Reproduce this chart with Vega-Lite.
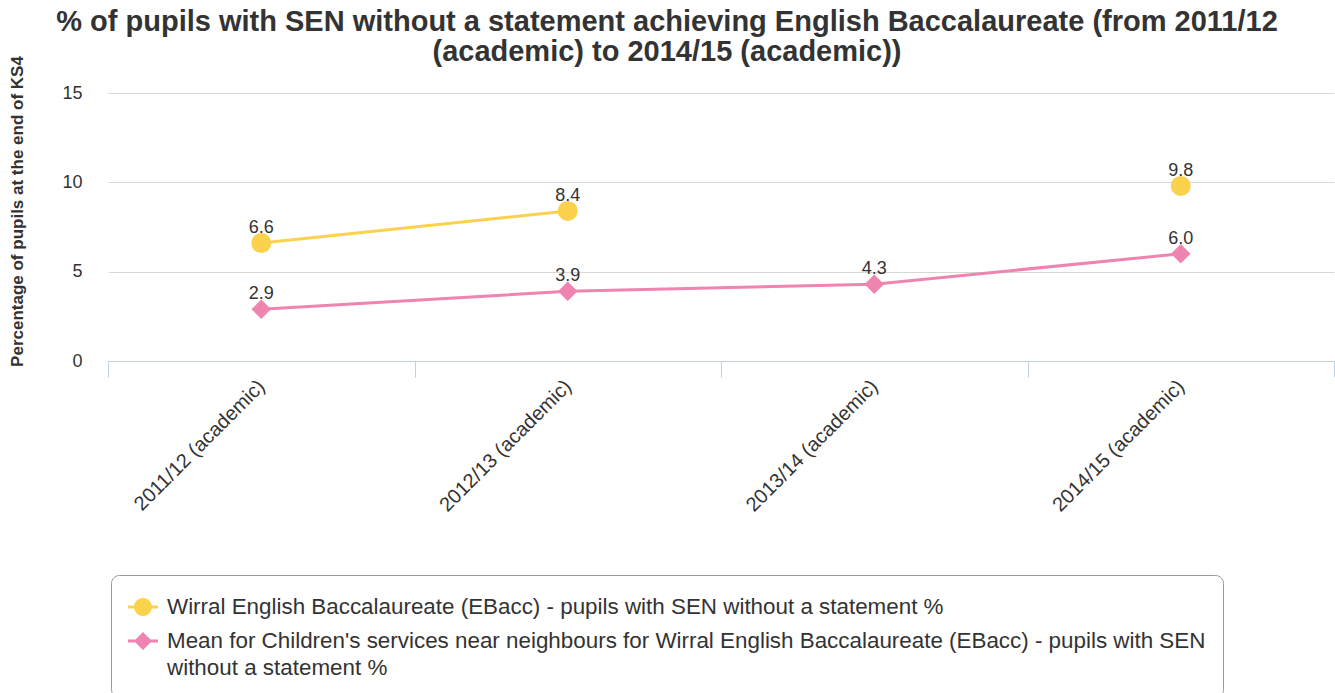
{
  "$schema": "https://vega.github.io/schema/vega-lite/v6.json",
  "width": 1226,
  "height": 268,
  "autosize": {"type": "none"},
  "padding": {"left": 108, "top": 93, "right": 1, "bottom": 332},
  "config": {"font": "Liberation Sans", "view": {"stroke": null}},
  "title": {
    "text": ["% of pupils with SEN without a statement achieving English Baccalaureate (from 2011/12", "(academic) to 2014/15 (academic))"],
    "fontSize": 29, "fontWeight": "bold", "color": "#333333", "lineHeight": 30,
    "anchor": "middle", "frame": "group", "dx": -54, "offset": -11
  },
  "data": {"values": [
    {"year": "2011/12 (academic)", "series": "A", "value": 6.6},
    {"year": "2012/13 (academic)", "series": "A", "value": 8.4},
    {"year": "2013/14 (academic)", "series": "A", "value": null},
    {"year": "2014/15 (academic)", "series": "A", "value": 9.8},
    {"year": "2011/12 (academic)", "series": "B", "value": 2.9},
    {"year": "2012/13 (academic)", "series": "B", "value": 3.9},
    {"year": "2013/14 (academic)", "series": "B", "value": 4.3},
    {"year": "2014/15 (academic)", "series": "B", "value": 6.0}
  ]},
  "encoding": {
    "x": {
      "field": "year", "type": "nominal", "sort": null,
      "scale": {"type": "band", "paddingInner": 0, "paddingOuter": 0},
      "axis": {
        "title": null, "domainColor": "#C0D0E0", "tickColor": "#C0D0E0", "tickSize": 16,
        "tickBand": "extent", "labelAngle": -45, "labelAlign": "right", "labelBaseline": "middle",
        "labelFontSize": 20, "labelColor": "#333333", "labelPadding": 6, "grid": false, "zindex": 1
      }
    },
    "y": {
      "field": "value", "type": "quantitative",
      "scale": {"domain": [0, 15], "nice": false},
      "axis": {
        "title": "Percentage of pupils at the end of KS4", "titleFontSize": 17, "titleFontWeight": "bold",
        "titleColor": "#333333", "titleX": -91, "titleY": 118, "titleAngle": -90, "titleAlign": "center",
        "titleBaseline": "middle", "values": [0, 5, 10, 15], "grid": true, "gridColor": "#D8D8D8",
        "domain": false, "ticks": false, "labelFontSize": 18, "labelColor": "#333333", "labelPadding": 26
      }
    },
    "color": {
      "field": "series", "type": "nominal",
      "scale": {"domain": ["A", "B"], "range": ["#FBD24B", "#EE84AF"]},
      "legend": {
        "orient": "none", "legendX": 3, "legendY": 482, "title": null, "direction": "vertical",
        "strokeColor": "#999999", "cornerRadius": 8, "padding": 17,
        "labelFontSize": 22.4, "labelColor": "#333333", "labelOffset": 9, "labelLimit": 0,
        "symbolSize": 900, "rowPadding": 7, "symbolStrokeWidth": 0, "symbolOpacity": 1,
        "labelExpr": "datum.value == 'A' ? 'Wirral English Baccalaureate (EBacc) - pupils with SEN without a statement %' : [\"Mean for Children's services near neighbours for Wirral English Baccalaureate (EBacc) - pupils with SEN\", 'without a statement %']",
        "encode": {
          "labels": {"update": {"lineHeight": {"value": 27}}}
        }
      }
    }
  },
  "layer": [
    {
      "mark": {"type": "line", "strokeWidth": 3, "invalid": "break-paths-show-domains"}
    },
    {
      "transform": [{"filter": "datum.value > 100"}],
      "mark": {"type": "point", "filled": true, "opacity": 1, "size": 400},
      "encoding": {
        "shape": {"field": "series", "type": "nominal", "scale": {"domain": ["A", "B"], "range": ["M-1,-0.1L1,-0.1L1,0.1L-1,0.1Z M0.6,0A0.6,0.6 0 1,1 -0.6,0A0.6,0.6 0 1,1 0.6,0Z", "M-1,-0.1L1,-0.1L1,0.1L-1,0.1Z M0,-0.6L0.6,0L0,0.6L-0.6,0Z"]}, "legend": null}
      }
    },
    {
      "transform": [{"filter": "datum.series == 'A'"}],
      "mark": {"type": "point", "filled": true, "opacity": 1, "size": 400, "shape": "circle"}
    },
    {
      "transform": [{"filter": "datum.series == 'B'"}],
      "mark": {"type": "point", "filled": true, "opacity": 1, "size": 380, "shape": "diamond"}
    },
    {
      "mark": {"type": "text", "fontSize": 18, "color": "#333333", "baseline": "bottom", "dy": -6},
      "encoding": {"color": {"value": "#333333"}, "text": {"field": "value", "type": "quantitative", "format": ".1f"}}
    }
  ]
}
